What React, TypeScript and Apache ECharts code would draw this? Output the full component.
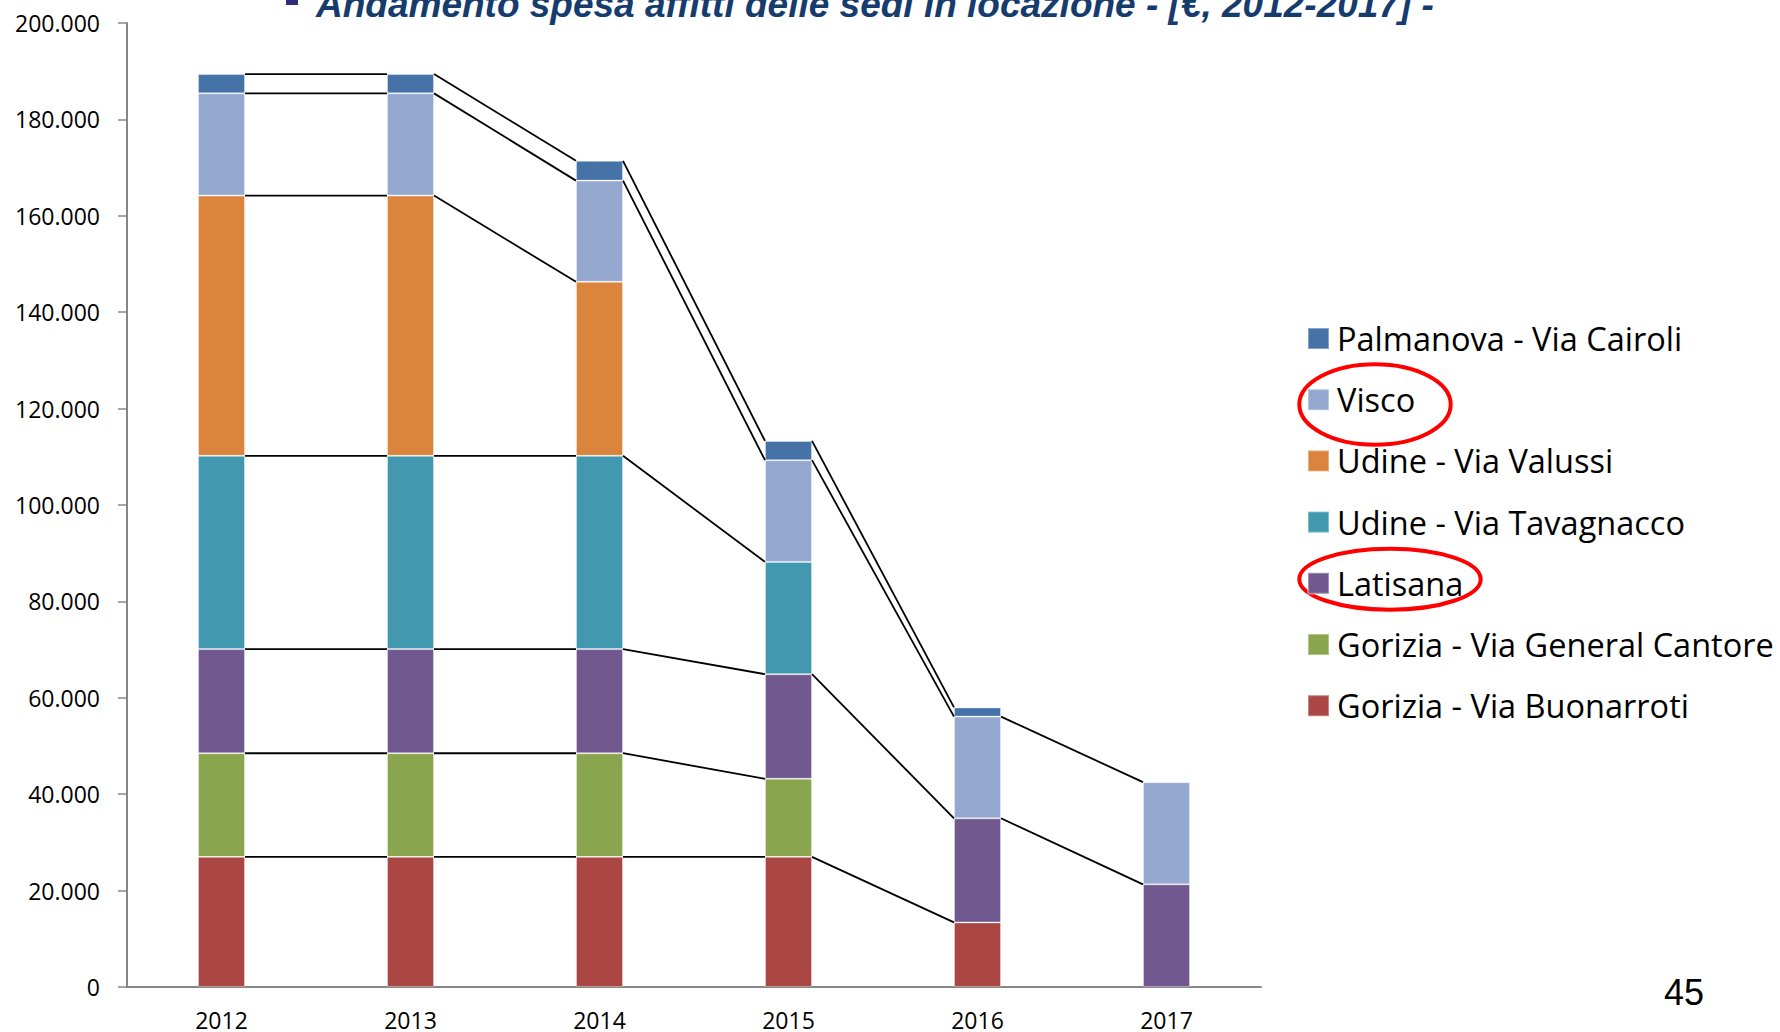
import React, { useEffect, useRef } from "react";
import * as echarts from "echarts";

const years = ["2012", "2013", "2014", "2015", "2016", "2017"];

// stack order, bottom to top
const buonarroti = [27000, 27000, 27000, 27000, 13400, null];
const generalCantore = [21500, 21500, 21500, 16200, null, null];
const latisana = [21600, 21600, 21600, 21700, 21600, 21300];
const tavagnacco = [40100, 40100, 40100, 23300, null, null];
const valussi = [54000, 54000, 36100, null, null, null];
const visco = [21200, 21200, 21000, 21100, 21100, 21200];
const palmanova = [4000, 4000, 4100, 4000, 1900, null];

const seriesNames = [
  "Gorizia - Via Buonarroti",
  "Gorizia - Via General Cantore",
  "Latisana",
  "Udine - Via Tavagnacco",
  "Udine - Via Valussi",
  "Visco",
  "Palmanova - Via Cairoli",
];
const seriesValues = [buonarroti, generalCantore, latisana, tavagnacco, valussi, visco, palmanova];
const seriesColors = ["#AA4643", "#89A54E", "#71588F", "#4198AF", "#DB843D", "#95A9D0", "#4572A7"];

const yMin = 0;
const yMax = 200000;
const yStep = 20000;

const titleText = "Andamento spesa affitti delle sedi in locazione - [€, 2012-2017] -";
const pageNumber = "45";

const BAR_W = 47;

function fmt(v: number): string {
  return String(v).replace(/\B(?=(\d{3})+(?!\d))/g, ".");
}

export default function App() {
  const ref = useRef<HTMLDivElement>(null);

  useEffect(() => {
    document.body.style.margin = "0";
    if (!ref.current) return;
    const chart = echarts.init(ref.current, null, { renderer: "svg" });

    // cumulative tops
    const cum: number[][] = seriesValues.map(() => years.map(() => 0));
    years.forEach((_, i) => {
      let s = 0;
      seriesValues.forEach((vals, k) => {
        s += vals[i] ?? 0;
        cum[k][i] = s;
      });
    });
    const connectors: number[][] = [];
    seriesValues.forEach((vals, k) => {
      for (let i = 0; i < years.length - 1; i++) {
        if (vals[i] != null && vals[i + 1] != null) {
          connectors.push([i, cum[k][i], cum[k][i + 1]]);
        }
      }
    });

    const barSeries = seriesNames.map((name, k) => ({
      name,
      type: "bar",
      stack: "total",
      barWidth: BAR_W,
      data: seriesValues[k],
      itemStyle: { color: seriesColors[k], borderColor: "rgba(255,255,255,0.35)", borderWidth: 1 },
      emphasis: { disabled: true },
    }));

    const option: any = {
      animation: false,
      grid: { left: 127, right: 519, top: 23, bottom: 45, outerBoundsMode: "none", containLabel: false },
      legend: {
        orient: "vertical",
        left: 1307,
        top: 322,
        padding: 0,
        itemWidth: 21,
        itemHeight: 21,
        itemGap: 28.2,
        icon: "rect",
        selectedMode: false,
        data: [...seriesNames].reverse(),
        textStyle: {
          fontFamily: "Open Sans",
          fontSize: 32.5,
          lineHeight: 32,
          color: "#000",
          padding: [0, 0, 0, 3],
        },
      },
      xAxis: {
        type: "category",
        data: years,
        axisLine: { lineStyle: { color: "#878787", width: 2 } },
        axisTick: { show: false },
        axisLabel: { fontFamily: "Open Sans", fontSize: 23, color: "#000", margin: 21 },
        splitLine: { show: false },
      },
      yAxis: {
        type: "value",
        min: yMin,
        max: yMax,
        interval: yStep,
        axisLine: { show: true, lineStyle: { color: "#878787", width: 2 } },
        axisTick: { show: true, length: 9, lineStyle: { color: "#878787", width: 1.5 } },
        axisLabel: {
          fontFamily: "Open Sans",
          fontSize: 23,
          color: "#000",
          margin: 27,
          padding: [0, 0, 5, 0],
          formatter: (v: number) => fmt(v),
        },
        splitLine: { show: false },
      },
      series: [
        ...barSeries,
        {
          type: "custom",
          name: "connectors",
          data: connectors,
          encode: { x: 0, y: [1, 2] },
          silent: true,
          z: 3,
          renderItem: (_params: any, api: any) => {
            const i = api.value(0);
            const a = api.coord([i, api.value(1)]);
            const b = api.coord([i + 1, api.value(2)]);
            return {
              type: "line",
              shape: { x1: a[0] + BAR_W / 2, y1: a[1], x2: b[0] - BAR_W / 2, y2: b[1] },
              style: { stroke: "#000", lineWidth: 1.8 },
            };
          },
        },
      ],
      graphic: [
        { type: "rect", shape: { x: 286, y: -6, width: 12, height: 11 }, style: { fill: "#2F2C7E" } },
        {
          type: "text",
          x: 316,
          y: 4.5,
          style: {
            text: titleText,
            fontFamily: "Liberation Sans",
            fontWeight: "bold",
            fontStyle: "italic",
            fontSize: 37,
            fill: "#163C6E",
            textAlign: "left",
            textVerticalAlign: "middle",
          },
        },
        {
          type: "ellipse",
          shape: { cx: 1375, cy: 404.5, rx: 75.7, ry: 40.2 },
          style: { fill: "none", stroke: "#FF0000", lineWidth: 4 },
        },
        {
          type: "ellipse",
          shape: { cx: 1390, cy: 579.2, rx: 90.7, ry: 30.5 },
          style: { fill: "none", stroke: "#FF0000", lineWidth: 4 },
        },
        {
          type: "text",
          x: 1664,
          y: 992.5,
          style: {
            text: pageNumber,
            fontFamily: "Liberation Sans",
            fontSize: 36,
            fill: "#000",
            textAlign: "left",
            textVerticalAlign: "middle",
          },
        },
      ],
    };

    chart.setOption(option);
    return () => chart.dispose();
  }, []);

  return <div ref={ref} style={{ width: 1780, height: 1032 }} />;
}
